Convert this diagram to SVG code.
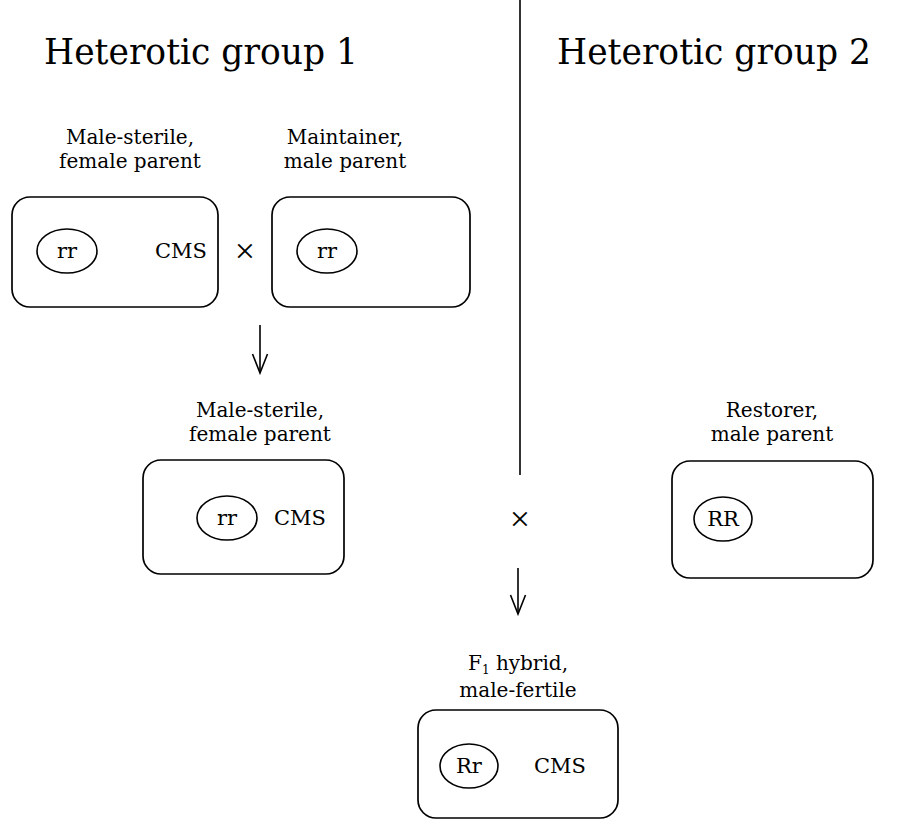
<svg xmlns="http://www.w3.org/2000/svg" width="916" height="824" viewBox="0 0 916 824">
<defs>
<style>
text{font-family:"DejaVu Serif","Liberation Serif",serif;fill:#000;text-anchor:middle}
.title{font-size:34.5px}
.lbl{font-size:20px}
.in{font-size:21px}
.x{font-size:36px;font-family:"Liberation Serif","DejaVu Serif",serif}
.box{fill:none;stroke:#000;stroke-width:1.7}
.ell{fill:none;stroke:#000;stroke-width:1.6}
.ln{stroke:#000;stroke-width:1.6;fill:none}
</style>
<marker id="ah" viewBox="0 0 22 20" refX="20" refY="10" markerWidth="22" markerHeight="20" markerUnits="userSpaceOnUse" orient="auto">
<path d="M1,2.5 L20,10 L1,17.5" stroke="#000" stroke-width="1.6" fill="none"/>
</marker>
</defs>
<rect width="916" height="824" fill="#fff"/>
<text class="title" x="201" y="64">Heterotic group 1</text>
<text class="title" x="714" y="64">Heterotic group 2</text>
<g id="connectors">
<line class="ln" x1="520" y1="0" x2="520" y2="475"/>
<line class="ln" x1="260" y1="325" x2="260" y2="373" marker-end="url(#ah)"/>
<line class="ln" x1="518" y1="568" x2="518" y2="614" marker-end="url(#ah)"/>
<text class="x" x="245" y="263">×</text>
<text class="x" x="520" y="531">×</text>
</g>
<g id="ms1">
<text class="lbl" x="130" y="144">Male-sterile,</text>
<text class="lbl" x="130" y="168">female parent</text>
<rect class="box" x="12" y="197" width="206" height="110" rx="18"/>
<ellipse class="ell" cx="67" cy="251" rx="30" ry="22"/>
<text class="in" x="67" y="258">rr</text>
<text class="in" x="181" y="258">CMS</text>
</g>
<g id="maint">
<text class="lbl" x="345" y="144">Maintainer,</text>
<text class="lbl" x="345" y="168">male parent</text>
<rect class="box" x="272" y="197" width="198" height="110" rx="18"/>
<ellipse class="ell" cx="327" cy="251" rx="30" ry="22"/>
<text class="in" x="327" y="258">rr</text>
</g>
<g id="ms2">
<text class="lbl" x="260" y="417">Male-sterile,</text>
<text class="lbl" x="260" y="441">female parent</text>
<rect class="box" x="143" y="460" width="201" height="114" rx="18"/>
<ellipse class="ell" cx="227" cy="518" rx="30" ry="22"/>
<text class="in" x="227" y="525">rr</text>
<text class="in" x="300" y="525">CMS</text>
</g>
<g id="restorer">
<text class="lbl" x="772" y="417">Restorer,</text>
<text class="lbl" x="772" y="441">male parent</text>
<rect class="box" x="672" y="461" width="201" height="117" rx="18"/>
<ellipse class="ell" cx="723" cy="519" rx="29" ry="22"/>
<text class="in" x="723" y="526">RR</text>
</g>
<g id="f1">
<text class="lbl" x="518" y="670">F<tspan font-size="12" dy="4">1</tspan><tspan dy="-4"> hybrid,</tspan></text>
<text class="lbl" x="518" y="697">male-fertile</text>
<rect class="box" x="418" y="710" width="200" height="108" rx="18"/>
<ellipse class="ell" cx="469" cy="766" rx="29" ry="22"/>
<text class="in" x="469" y="773">Rr</text>
<text class="in" x="560" y="773">CMS</text>
</g>
</svg>
